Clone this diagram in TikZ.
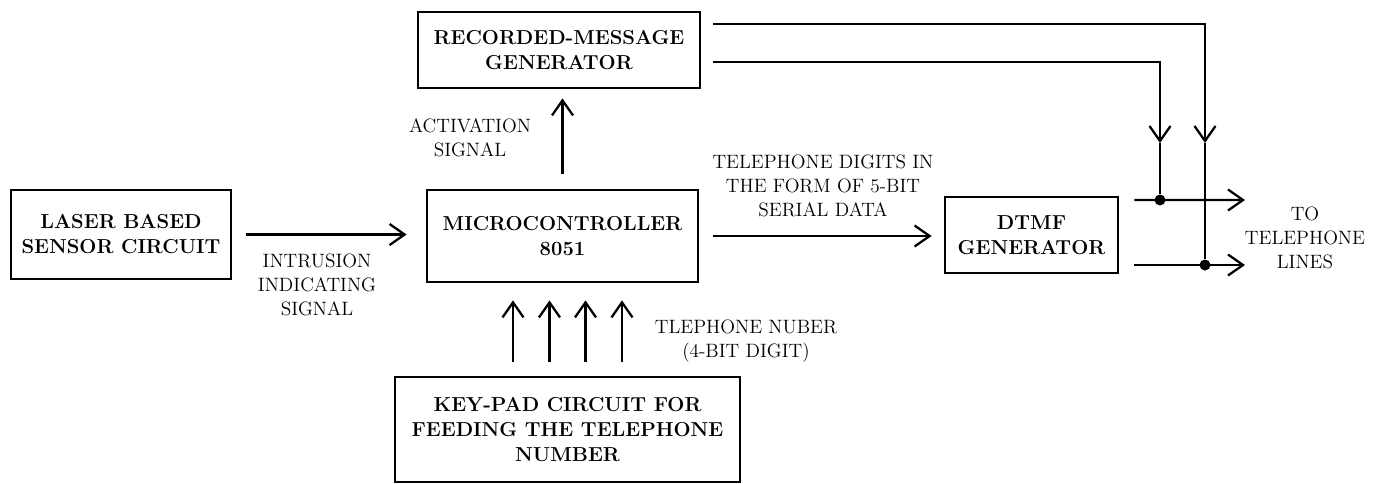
\documentclass[tikz,border=0pt]{standalone}
\usepackage{tikz}
\usetikzlibrary{arrows.meta, positioning}

\begin{document}
\begin{tikzpicture}[
  blk/.style={draw, line width=1.6pt, align=center, inner sep=0pt, font=\fontsize{11.5}{14.2}\selectfont\bfseries},
  lbl/.style={align=center, font=\fontsize{11}{13.6}\selectfont},
  wire/.style={line width=1.3pt},
  arr/.style={wire, -{Straight Barb[length=3mm, width=4.2mm]}},
  jn/.style={circle, fill, inner sep=0pt, minimum size=2.2mm}
]
  \useasboundingbox (0,0) rectangle (27.64,-9.66);
  % blocks
  \node[blk, minimum width=4.4cm, minimum height=1.78cm] (laser) at (2.42,-4.69) {LASER BASED\\SENSOR CIRCUIT};
  \node[blk, minimum width=5.42cm, minimum height=1.84cm] (mcu) at (11.25,-4.72) {MICROCONTROLLER\\8051};
  \node[blk, minimum width=5.64cm, minimum height=1.52cm] (rec) at (11.18,-1.0) {RECORDED-MESSAGE\\GENERATOR};
  \node[blk, minimum width=3.46cm, minimum height=1.52cm] (dtmf) at (20.63,-4.7) {DTMF\\GENERATOR};
  \node[blk, minimum width=6.9cm, minimum height=2.1cm] (keypad) at (11.35,-8.59) {KEY-PAD CIRCUIT FOR\\FEEDING THE TELEPHONE\\NUMBER};
  % labels
  \node[lbl] (intr) at (6.34,-5.70) {INTRUSION\\INDICATING\\SIGNAL};
  \node[lbl] (act) at (9.40,-2.75) {ACTIVATION\\SIGNAL};
  \node[lbl] (digits) at (16.46,-3.72) {TELEPHONE DIGITS IN\\THE FORM OF 5-BIT\\SERIAL DATA};
  \node[lbl] (tnum) at (14.92,-6.82) {TLEPHONE NUBER\\(4-BIT DIGIT)};
  \node[lbl] (tel) at (26.10,-4.75) {TO\\TELEPHONE\\LINES};
  % junctions
  \node[jn] (dotA) at (23.2,-4.0) {};
  \node[jn] (dotB) at (24.1,-5.3) {};
  \coordinate (tipA) at (23.2,-2.86);
  \coordinate (tipB) at (24.1,-2.86);
  \coordinate (outA) at (24.9,-4.0);
  \coordinate (outB) at (24.9,-5.3);
  % connectors
  \draw[arr, shorten <=0.28cm, shorten >=0.38cm] (laser.east) -- (laser.east -| mcu.west);
  \draw[arr, shorten <=0.3cm, shorten >=0.18cm] (mcu.north) -- (mcu.north |- rec.south);
  \draw[arr, shorten <=0.28cm, shorten >=0.24cm] (mcu.east) -- (mcu.east -| dtmf.west);
  \foreach \dx in {-1.09,-0.36,0.36,1.09}
    \draw[arr, shorten <=0.28cm, shorten >=0.34cm] ([xshift=\dx cm]keypad.north) -- ([xshift=\dx cm]keypad.north |- mcu.south);
  \draw[arr, shorten <=0.24cm] ([yshift=0.52cm]rec.east) -| (tipB);
  \draw[wire] (tipB) -- (dotB);
  \draw[arr, shorten <=0.24cm] ([yshift=-0.24cm]rec.east) -| (tipA);
  \draw[wire] (tipA) -- (dotA);
  \draw[arr, shorten <=0.3cm] ([yshift=0.7cm]dtmf.east) -- (outA);
  \draw[arr, shorten <=0.3cm] ([yshift=-0.6cm]dtmf.east) -- (outB);
\end{tikzpicture}
\end{document}
